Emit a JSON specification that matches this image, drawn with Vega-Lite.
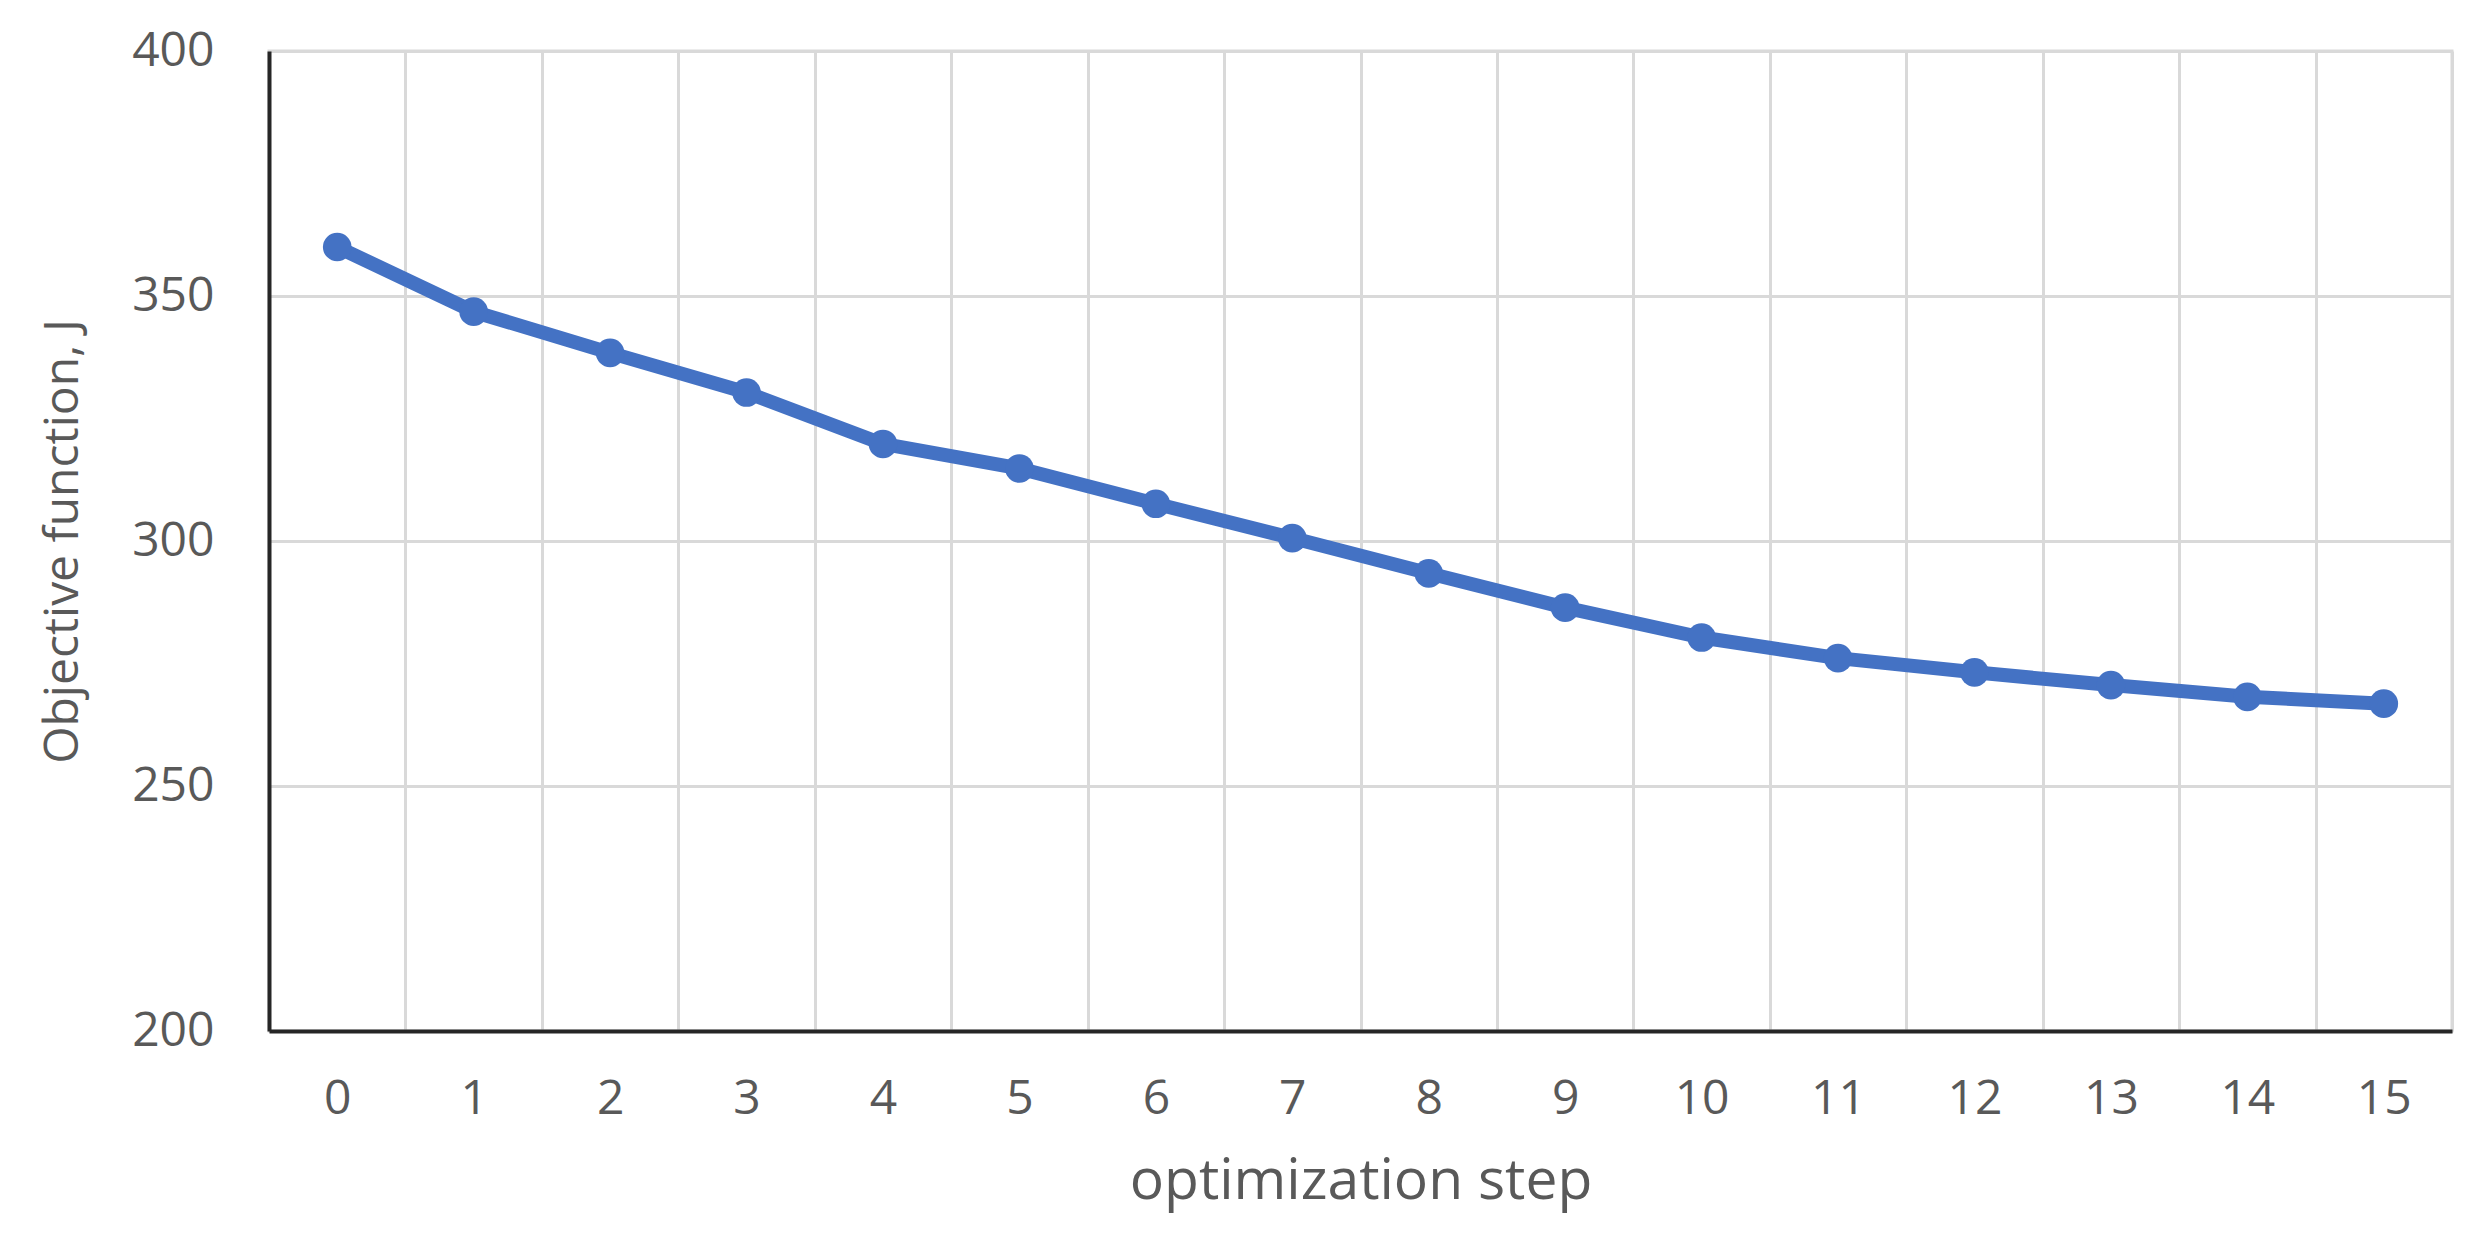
{
  "$schema": "https://vega.github.io/schema/vega-lite/v6.json",
  "description": "Objective function by optimization step",
  "autosize": "none",
  "padding": {"left": 269, "top": 51, "right": 30, "bottom": 215},
  "width": 2183,
  "height": 980,
  "background": "white",
  "data": {
    "values": [
      {"step": 0, "J": 360.0},
      {"step": 1, "J": 346.8},
      {"step": 2, "J": 338.4},
      {"step": 3, "J": 330.3},
      {"step": 4, "J": 319.8},
      {"step": 5, "J": 314.8},
      {"step": 6, "J": 307.6},
      {"step": 7, "J": 300.6},
      {"step": 8, "J": 293.4},
      {"step": 9, "J": 286.4},
      {"step": 10, "J": 280.3},
      {"step": 11, "J": 276.1},
      {"step": 12, "J": 273.2},
      {"step": 13, "J": 270.6},
      {"step": 14, "J": 268.2},
      {"step": 15, "J": 266.8}
    ]
  },
  "encoding": {
    "x": {
      "field": "step",
      "type": "ordinal",
      "title": "optimization step",
      "scale": {"type": "band", "paddingInner": 0, "paddingOuter": 0},
      "axis": {
        "labelAngle": 0,
        "ticks": false,
        "grid": true,
        "tickBand": "extent",
        "labelPadding": 44,
        "titlePadding": 30,
        "titleFontSize": 57
      }
    },
    "y": {
      "field": "J",
      "type": "quantitative",
      "title": "Objective function, J",
      "scale": {"domain": [200, 400], "nice": false, "zero": false},
      "axis": {
        "values": [200, 250, 300, 350, 400],
        "ticks": false,
        "labelPadding": 55,
        "titlePadding": 44,
        "titleFontSize": 48
      }
    }
  },
  "layer": [
    {
      "mark": {"type": "line", "color": "#4472C4", "strokeWidth": 14, "strokeJoin": "round", "strokeCap": "round"}
    },
    {
      "mark": {"type": "point", "filled": true, "shape": "circle", "color": "#4472C4", "opacity": 1, "size": 820}
    }
  ],
  "config": {
    "font": "Open Sans",
    "view": {"stroke": "#d9d9d9", "strokeWidth": 3},
    "axis": {
      "domainColor": "#262626",
      "domainWidth": 4,
      "gridColor": "#d9d9d9",
      "gridWidth": 3,
      "labelFont": "Open Sans",
      "labelFontSize": 48,
      "labelColor": "#595959",
      "titleFont": "Open Sans",
      "titleFontWeight": "normal",
      "titleColor": "#595959"
    }
  }
}
